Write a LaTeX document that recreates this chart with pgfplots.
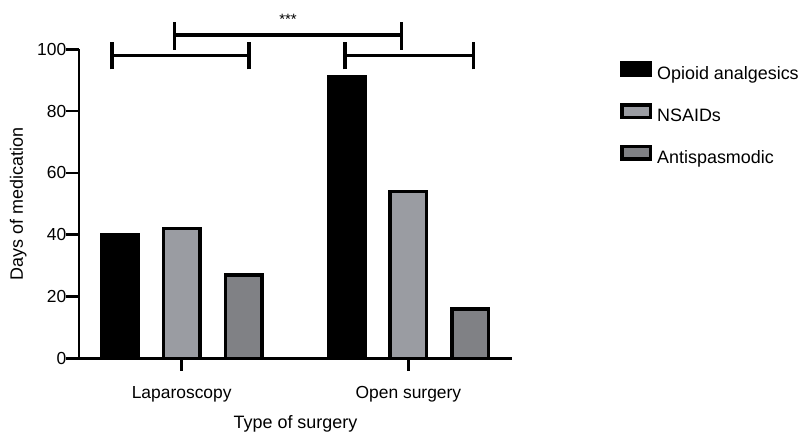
\documentclass[border=0pt]{standalone}
\usepackage{pgfplots}
\pgfplotsset{compat=1.18}
\usepackage{fontspec}
\setmainfont{Liberation Sans}
\definecolor{nsaid}{RGB}{154,156,162}
\definecolor{antisp}{RGB}{128,129,133}
\begin{document}
\begin{tikzpicture}
\path[use as bounding box] (-79bp,-73.7bp) rectangle (727bp,358.3bp);
\begin{axis}[
  scale only axis, width=433bp, height=309bp,
  xmin=-0.453, xmax=1.457, ymin=0, ymax=100,
  axis x line*=bottom, axis y line*=left,
  axis line style={line width=2.7bp, -},
  xtick={0,1}, xticklabels={Laparoscopy, Open surgery},
  ytick={0,20,...,100},
  tick align=outside, major tick length=12.5bp,
  tick style={line width=2.5bp, black},
  ticklabel style={font=\fontsize{17.5}{20}\selectfont, inner sep=0pt},
  /pgf/number format/assume math mode=true,
  xticklabel style={anchor=base, yshift=-28bp},
  clip=false,
  xlabel={Type of surgery}, ylabel={Days of medication},
  label style={font=\fontsize{18}{21}\selectfont},
  xlabel style={at={([yshift=-70bp]axis description cs:0.5,0)}, anchor=base},
  ylabel style={at={([xshift=-56bp]axis description cs:0,0.5)}, anchor=base},
  legend style={at={(1.2494,0.962)}, anchor=north west, draw=none, fill=none, inner sep=0pt,
    row sep=19.2bp, column sep=5bp, font=\fontsize{18}{21}\selectfont,
    nodes={inner sep=0pt, text height=13bp, text depth=4bp}},
  legend cell align=left,
  legend image code/.code={\draw[#1, line width=3.6bp] (0bp,-0.3bp) rectangle (28.4bp,12.3bp);},
]
\addplot[ybar, bar width=36.4bp, bar shift=0pt, fill=black, draw=black, line width=3.6bp, forget plot]
  coordinates {(-0.273,40) (0.727,91)};
\addplot[ybar, bar width=36.4bp, bar shift=0pt, fill=nsaid, draw=black, line width=3.6bp, forget plot]
  coordinates {(0,42) (1,54)};
\addplot[ybar, bar width=36.4bp, bar shift=0pt, fill=antisp, draw=black, line width=3.6bp, forget plot]
  coordinates {(0.273,27) (1.273,16)};
\addlegendimage{fill=black, draw=black}
\addlegendentry{Opioid analgesics}
\addlegendimage{fill=nsaid, draw=black}
\addlegendentry{NSAIDs}
\addlegendimage{fill=antisp, draw=black}
\addlegendentry{Antispasmodic}
% significance brackets
\draw[line width=3.2bp] (-0.307,98) -- (0.297,98);
\draw[line width=3.2bp] (-0.307,93.5) -- (-0.307,102.4);
\draw[line width=3.2bp] (0.297,93.5) -- (0.297,102.4);
\draw[line width=3.2bp] (0.720,98) -- (1.286,98);
\draw[line width=3.2bp] (0.720,93.5) -- (0.720,102.4);
\draw[line width=3.2bp] (1.286,93.5) -- (1.286,102.4);
\draw[line width=3.2bp] (-0.031,104.6) -- (0.970,104.6);
\draw[line width=3.2bp] (-0.031,99.8) -- (-0.031,108.7);
\draw[line width=3.2bp] (0.970,99.8) -- (0.970,108.7);
\node[anchor=base, font=\fontsize{15}{17}\selectfont, inner sep=0pt] at (0.469,108) {***};
\end{axis}
\end{tikzpicture}
\end{document}
